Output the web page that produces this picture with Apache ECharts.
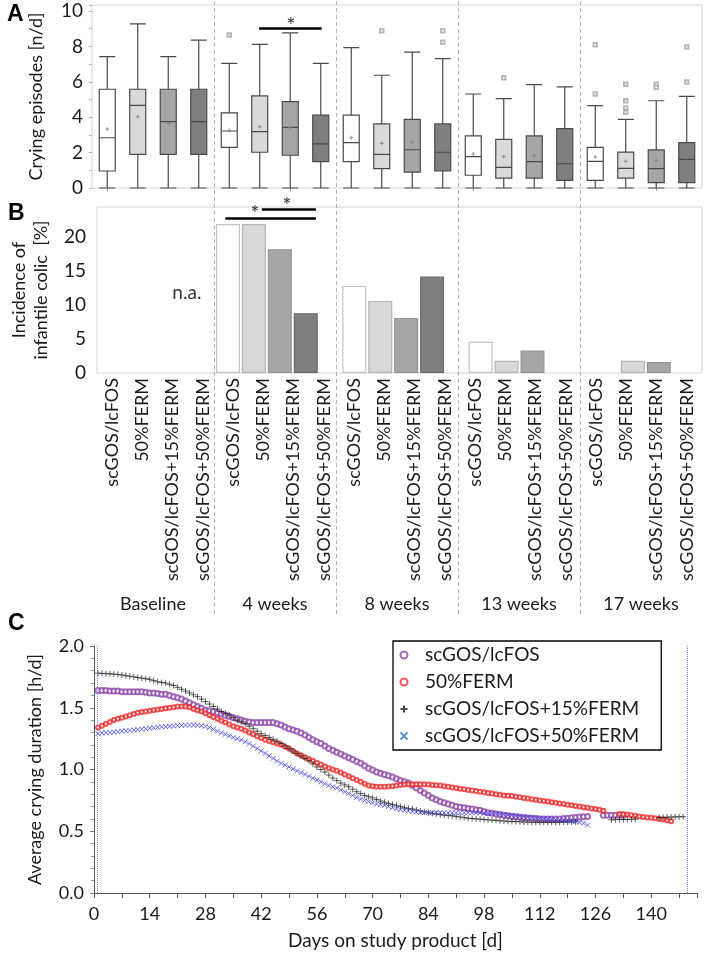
<!DOCTYPE html>
<html><head><meta charset="utf-8">
<script src="https://cdn.jsdelivr.net/npm/echarts@6/dist/echarts.min.js"></script>
<style>html,body{margin:0;padding:0;background:#fff}#c{width:709px;height:955px}</style>
</head><body><div id="c"></div>
<script>
// ---------------- DATA ----------------
const groups = ['Baseline', '4 weeks', '8 weeks', '13 weeks', '17 weeks'];
const products = ['scGOS/lcFOS', '50%FERM', 'scGOS/lcFOS+15%FERM', 'scGOS/lcFOS+50%FERM'];

// Panel A: crying episodes [n/d]; [min, Q1, median, Q3, max] per box (group-major)
const boxStats = [
  [0, 0.96, 2.84, 5.58, 7.42], [0, 1.90, 4.67, 5.58, 9.27], [0, 1.90, 3.75, 5.58, 7.42], [0, 1.90, 3.75, 5.58, 8.36],
  [0, 2.30, 3.22, 4.25, 7.04], [0, 2.02, 3.18, 5.20, 8.12], [0, 1.85, 3.43, 4.88, 8.77], [0, 1.49, 2.49, 4.12, 7.04],
  [0, 1.49, 2.56, 4.12, 7.93], [0, 1.09, 1.90, 3.62, 6.37], [0, 0.90, 2.16, 3.88, 7.68], [0, 0.96, 2.02, 3.62, 7.31],
  [0, 0.72, 1.77, 2.94, 5.31], [0, 0.56, 1.17, 2.75, 5.05], [0, 0.56, 1.49, 2.94, 5.84], [0, 0.43, 1.37, 3.35, 5.71],
  [0, 0.43, 1.51, 2.30, 4.65], [0, 0.56, 1.11, 2.03, 3.88], [0, 0.30, 1.09, 2.15, 4.93], [0, 0.30, 1.62, 2.56, 5.18]
];
const boxMeans = [3.33, 4.03, 3.65, 3.90, 3.25, 3.46, 3.41, 2.86, 2.84, 2.52, 2.58, 2.56,
                  1.92, 1.77, 1.83, 1.92, 1.75, 1.51, 1.56, 1.71];
// outliers: [box index, value]
const boxOutliers = [[4, 8.64], [9, 8.89], [11, 8.89], [11, 8.23], [13, 6.23],
  [16, 8.10], [16, 5.31], [17, 5.86], [17, 4.93], [17, 4.52], [17, 4.28],
  [18, 5.86], [18, 5.69], [19, 7.97], [19, 5.99]];
// significance annotations, x in slot units (0..20), [from, to, level] and star [x, y]
const sigA = [[5.48, 7.53, 9.0]];
const starA = [[6.52, 9.17]];

// Panel B: incidence of infantile colic [%] per product across the 5 time points (null = none / n.a.)
const colicScGOS   = [null, 21.9, 12.8, 4.6, null];
const colic50Ferm  = [null, 21.9, 10.6, 1.8, 1.8];
const colic15Ferm  = [null, 18.2, 8.1, 3.3, 1.6];
const colicSc50Ferm = [null, 8.8, 14.2, null, null];
const sigB = [[4.37, 7.34, 22.7], [5.57, 7.34, 24.1]];
const starB = [[5.34, 23.4], [6.39, 24.6]];
const naB = [3.11, 11.8];

// Panel C: average crying duration [h/d] by day on study product
const purpleFromDay1 = [
1.64,1.64,1.64,1.635,1.635,1.635,1.63,1.63,1.63,1.63,
1.63,1.63,1.625,1.62,1.62,1.615,1.61,1.61,1.60,1.59,
1.58,1.57,1.555,1.54,1.525,1.51,1.495,1.48,1.475,1.47,
1.46,1.45,1.44,1.43,1.42,1.41,1.40,1.39,1.385,1.38,
1.38,1.38,1.38,1.38,1.38,1.37,1.36,1.345,1.33,1.32,
1.31,1.295,1.28,1.26,1.24,1.225,1.21,1.19,1.17,1.155,
1.14,1.125,1.11,1.095,1.08,1.065,1.05,1.03,1.01,0.995,
0.98,0.97,0.96,0.95,0.94,0.925,0.91,0.90,0.89,0.87,
0.85,0.83,0.81,0.79,0.77,0.755,0.74,0.73,0.72,0.71,
0.70,0.695,0.69,0.685,0.68,0.675,0.67,0.66,0.65,0.645,
0.64,0.635,0.63,0.625,0.62,0.617,0.613,0.61,0.607,0.605,
0.603,0.60,0.60,0.60,0.60,0.60,0.60,0.603,0.605,0.61,
0.612,0.615,0.617,0.62];
const purpleFromDay128 = [0.63,0.63,0.63,0.63,0.63,0.63];

const redFromDay1 = [
1.34,1.355,1.37,1.385,1.40,1.41,1.42,1.43,1.44,1.45,
1.46,1.465,1.47,1.475,1.48,1.485,1.49,1.495,1.50,1.505,
1.51,1.51,1.51,1.505,1.49,1.48,1.47,1.455,1.44,1.425,
1.41,1.395,1.38,1.365,1.35,1.34,1.33,1.315,1.30,1.285,
1.27,1.255,1.24,1.23,1.22,1.21,1.20,1.185,1.17,1.15,
1.13,1.115,1.10,1.085,1.07,1.055,1.04,1.025,1.01,1.00,
0.99,0.975,0.96,0.945,0.93,0.915,0.90,0.885,0.87,0.865,
0.86,0.86,0.86,0.862,0.865,0.87,0.875,0.878,0.88,0.88,
0.88,0.88,0.88,0.878,0.875,0.872,0.87,0.865,0.86,0.855,
0.85,0.845,0.84,0.835,0.83,0.825,0.82,0.815,0.81,0.805,
0.80,0.795,0.79,0.787,0.785,0.78,0.775,0.77,0.765,0.76,
0.755,0.75,0.745,0.74,0.735,0.73,0.725,0.72,0.715,0.71,
0.705,0.70,0.695,0.69,0.685,0.68,0.675,0.665];
const redFromDay132 = [0.64,0.638,0.635,0.63,0.625,0.62,0.615,0.612,0.61,0.605,0.60,0.595,0.59,0.58];

const blackFromDay1 = [
1.78,1.778,1.776,1.775,1.772,1.77,1.765,1.76,1.755,1.75,
1.745,1.74,1.735,1.73,1.72,1.71,1.705,1.70,1.69,1.68,
1.665,1.65,1.635,1.62,1.605,1.59,1.57,1.55,1.53,1.51,
1.49,1.47,1.455,1.44,1.42,1.40,1.385,1.37,1.35,1.33,
1.31,1.29,1.275,1.26,1.245,1.23,1.21,1.19,1.17,1.15,
1.13,1.11,1.09,1.07,1.045,1.02,1.00,0.98,0.955,0.93,
0.91,0.89,0.875,0.86,0.84,0.82,0.805,0.79,0.78,0.77,
0.757,0.745,0.735,0.725,0.717,0.71,0.70,0.69,0.685,0.68,
0.672,0.665,0.657,0.65,0.645,0.64,0.635,0.63,0.627,0.625,
0.62,0.615,0.61,0.605,0.603,0.60,0.598,0.595,0.592,0.59,
0.588,0.585,0.583,0.58,0.579,0.578,0.577,0.575,0.574,0.573,
0.572,0.572,0.572,0.572,0.572,0.572,0.572,0.573,0.574,0.575,
0.577];
const blackFromDay130 = [0.593,0.594,0.595,0.595,0.596,0.597,0.598];
const blackFromDay142 = [0.61,0.612,0.614,0.615,0.616,0.617,0.618];

const blueFromDay1 = [
1.29,1.295,1.298,1.30,1.303,1.306,1.31,1.313,1.316,1.32,
1.323,1.327,1.33,1.335,1.338,1.342,1.345,1.347,1.35,1.352,
1.355,1.357,1.36,1.36,1.36,1.358,1.355,1.35,1.34,1.325,
1.31,1.297,1.285,1.272,1.26,1.25,1.24,1.225,1.21,1.19,
1.17,1.15,1.13,1.11,1.09,1.07,1.05,1.035,1.02,1.005,
0.99,0.975,0.96,0.945,0.93,0.915,0.90,0.885,0.87,0.86,
0.85,0.835,0.82,0.805,0.79,0.775,0.76,0.75,0.74,0.73,
0.72,0.715,0.71,0.70,0.69,0.682,0.675,0.67,0.665,0.66,
0.655,0.652,0.65,0.65,0.65,0.65,0.65,0.65,0.65,0.65,
0.65,0.65,0.65,0.65,0.65,0.65,0.65,0.648,0.646,0.645,
0.642,0.638,0.635,0.632,0.628,0.625,0.622,0.618,0.615,0.612,
0.608,0.605,0.603,0.60,0.598,0.595,0.592,0.59,0.587,0.583,
0.58,0.573,0.565,0.55];
const refDays = [0.7, 149];

// ---------------- BUILD ----------------
const FONT = 'Lato';
const TXT = '#1a1a1a';
const cats = [];
groups.forEach(() => products.forEach(p => cats.push(p)));
const fills = ['#ffffff', '#d9d9d9', '#a6a6a6', '#7f7f7f'];
const barBorders = ['#c4c4c4', '#b5b5b5', '#959595', '#6a6a6a'];
const colicByProduct = [colicScGOS, colic50Ferm, colic15Ferm, colicSc50Ferm];
function seg(start, vals) { return vals.map((v, i) => [start + i, v]); }
const PLUS = 'path://M0,5L10,5M5,0L5,10';
const CROSS = 'path://M0,0L10,10M10,0L0,10';
const A_MAX = 10.34, B_MAX = 24.4;

const gA = { left: 92, right: 7, top: 5, height: 183 };
const gB = { left: 92, right: 7, top: 207, height: 166 };
const gO = { left: 92, right: 7, top: 0, height: 614 };
const gC = { left: 94, right: 12, top: 646, height: 247 };
const gBars = { left: 77.4, right: -12.4, top: 207, height: 166 };

const hiddenVal = (gi, min, max) => ({ gridIndex: gi, type: 'value', min: min, max: max, show: false });
const noneSym = { symbol: 'circle', symbolSize: 1, itemStyle: { color: 'transparent' } };
const sigLine = arr => ({ silent: true, symbol: ['none', 'none'], label: { show: false },
  lineStyle: { color: '#000', width: 2.6, type: 'solid' },
  data: arr.map(s => [{ coord: [s[0], s[2]] }, { coord: [s[1], s[2]] }]) });

const option = {
  animation: false,
  backgroundColor: '#fff',
  textStyle: { fontFamily: FONT },
  graphic: [
    { type: 'text', left: 7, top: 3, style: { text: 'A', font: 'bold 23px "Liberation Sans"', fill: '#000' } },
    { type: 'text', left: 8, top: 202, style: { text: 'B', font: 'bold 23px "Liberation Sans"', fill: '#000' } },
    { type: 'text', left: 8, top: 612, style: { text: 'C', font: 'bold 23px "Liberation Sans"', fill: '#000' } }
  ],
  grid: [
    Object.assign({ show: true, borderColor: '#d4d4d4', borderWidth: 1, backgroundColor: 'transparent' }, gA), // 0
    Object.assign({ show: true, borderColor: '#d4d4d4', borderWidth: 1, backgroundColor: 'transparent' }, gB), // 1
    Object.assign({ show: false }, gO),    // 2 overlay
    Object.assign({ show: false }, gC),    // 3 panel C
    Object.assign({ show: false }, gA),    // 4 A annotations
    Object.assign({ show: false }, gB),    // 5 B annotations
    Object.assign({ show: false }, gBars)  // 6 B bars
  ],
  xAxis: [
    { gridIndex: 0, type: 'category', data: cats, boundaryGap: true,
      axisLine: { show: false }, axisLabel: { show: false },
      axisTick: { show: true, alignWithLabel: true, length: 3, lineStyle: { color: '#999' } } },
    { gridIndex: 1, type: 'category', data: cats, boundaryGap: true,
      axisLine: { show: false }, axisTick: { show: false },
      axisLabel: { show: true, interval: 0, rotate: 90, margin: 5, fontSize: 18, color: TXT, fontFamily: FONT } },
    Object.assign(hiddenVal(2, 0, 20), { position: 'top' }),
    { gridIndex: 2, type: 'category', data: groups, position: 'bottom', boundaryGap: true,
      axisLine: { show: false }, axisTick: { show: false },
      axisLabel: { inside: true, margin: 1, fontSize: 18, color: TXT, fontFamily: FONT, verticalAlign: 'bottom' } },
    { gridIndex: 3, type: 'value', min: 0, max: 151.5, interval: 7,
      axisLine: { show: true, lineStyle: { color: '#555', width: 1 } },
      axisTick: { show: true, length: 5, lineStyle: { color: '#555' } },
      splitLine: { show: false },
      axisLabel: { fontSize: 18, color: TXT, margin: 12, fontFamily: FONT,
        formatter: v => (v % 14 === 0 && v <= 140) ? String(v) : '' },
      name: 'Days on study product [d]', nameLocation: 'middle', nameGap: 38,
      nameTextStyle: { fontSize: 19, color: TXT, fontFamily: FONT } },
    hiddenVal(4, 0, 20),
    hiddenVal(5, 0, 20),
    { gridIndex: 6, type: 'category', data: groups, show: false }
  ],
  yAxis: [
    { gridIndex: 0, type: 'value', min: 0, max: A_MAX, interval: 2,
      axisLine: { show: false }, splitLine: { show: false },
      axisTick: { show: true, length: 3, lineStyle: { color: '#aaa' } },
      minorTick: { show: true, splitNumber: 2, length: 3, lineStyle: { color: '#bbb' } },
      axisLabel: { fontSize: 19, color: TXT, margin: 9, fontFamily: FONT,
        formatter: v => (Math.abs(v - Math.round(v)) < 1e-6 && Math.round(v) % 2 === 0) ? String(v) : '' },
      name: 'Crying episodes [n/d]', nameLocation: 'middle', nameGap: 47,
      nameTextStyle: { fontSize: 18, color: TXT, fontFamily: FONT } },
    { gridIndex: 1, type: 'value', min: 0, max: B_MAX, interval: 5,
      axisLine: { show: false }, splitLine: { show: false }, axisTick: { show: false },
      axisLabel: { fontSize: 19, color: TXT, margin: 11, fontFamily: FONT,
        formatter: v => (v % 5 === 0) ? String(v) : '' },
      name: 'Incidence of\ninfantile colic  [%]', nameLocation: 'middle', nameGap: 45,
      nameTextStyle: { fontSize: 18, color: TXT, fontFamily: FONT, lineHeight: 22, align: 'center' } },
    hiddenVal(2, 0, 1),
    { gridIndex: 3, type: 'value', min: 0, max: 2, interval: 0.5,
      axisLine: { show: true, lineStyle: { color: '#555', width: 1 } },
      axisTick: { show: true, length: 4, lineStyle: { color: '#777' } },
      minorTick: { show: true, splitNumber: 5, length: 3, lineStyle: { color: '#999' } },
      splitLine: { show: false },
      axisLabel: { fontSize: 18, color: TXT, margin: 10, fontFamily: FONT, formatter: v => v.toFixed(1) },
      name: 'Average crying duration [h/d]', nameLocation: 'middle', nameGap: 50,
      nameTextStyle: { fontSize: 18, color: TXT, fontFamily: FONT } },
    hiddenVal(4, 0, A_MAX),
    hiddenVal(5, 0, B_MAX),
    hiddenVal(6, 0, B_MAX)
  ],
  legend: {
    left: 393, top: 641, orient: 'vertical',
    data: [
      { name: 'scGOS/lcFOS' },
      { name: '50%FERM' },
      { name: 'scGOS/lcFOS+15%FERM' },
      { name: 'scGOS/lcFOS+50%FERM', itemStyle: { borderColor: '#2e78c0' } }
    ],
    borderColor: '#000', borderWidth: 1.3, backgroundColor: '#fff',
    padding: [3, 22, 3, 5], itemGap: 5, itemWidth: 32, itemHeight: 7,
    textStyle: { fontSize: 19, color: TXT, fontFamily: FONT, lineHeight: 22 }
  },
  series: [
    // Panel A boxes
    { type: 'boxplot', xAxisIndex: 0, yAxisIndex: 0, boxWidth: [16, 16], silent: true,
      data: boxStats.map((s, i) => ({ value: s, itemStyle: { color: fills[i % 4], borderColor: '#4a4a4a', borderWidth: 1.2 } })) },
    // means
    { type: 'scatter', xAxisIndex: 0, yAxisIndex: 0, symbol: PLUS, symbolSize: 4, silent: true,
      itemStyle: { color: 'none', borderColor: '#808080', borderWidth: 1 },
      data: boxMeans.map((m, i) => [i, m]) },
    // outliers
    { type: 'scatter', xAxisIndex: 0, yAxisIndex: 0, symbol: 'emptyRect', symbolSize: 3.5, silent: true,
      itemStyle: { color: '#a8a8a8', borderWidth: 0.9 }, data: boxOutliers },
    // A significance
    Object.assign({ type: 'scatter', xAxisIndex: 5, yAxisIndex: 4, silent: true, clip: false,
      data: starA.map(s => ({ value: s, name: '*' })),
      label: { show: true, position: 'inside', formatter: '*', fontSize: 22, color: '#000', fontFamily: FONT },
      markLine: sigLine(sigA) }, noneSym),
    // Panel B bars (grouped by time point)
    ...colicByProduct.map((arr, k) => ({
      type: 'bar', xAxisIndex: 7, yAxisIndex: 6, barWidth: 24, barGap: '8%', silent: true,
      itemStyle: { color: fills[k], borderColor: barBorders[k], borderWidth: 1.2 },
      data: arr.map(v => v == null ? '-' : v) })),
    // B annotations
    Object.assign({ type: 'scatter', xAxisIndex: 6, yAxisIndex: 5, silent: true, clip: false,
      data: starB.map(s => ({ value: s, name: '*' })).concat([{ value: naB, name: 'n.a.', label: { fontSize: 19 } }]),
      label: { show: true, position: 'inside', formatter: p => p.name, fontSize: 22, color: '#000', fontFamily: FONT },
      markLine: sigLine(sigB) }, noneSym),
    // overlay dashed group separators
    { type: 'line', xAxisIndex: 2, yAxisIndex: 2, data: [[0, 0]], symbol: 'none', lineStyle: { width: 0 }, silent: true,
      markLine: { silent: true, symbol: ['none', 'none'], label: { show: false },
        lineStyle: { color: '#b3b3b3', width: 1, type: [4, 3] },
        data: [4, 8, 12, 16].map(x => ({ xAxis: x })) } },
    // Panel C
    { name: 'scGOS/lcFOS', type: 'scatter', xAxisIndex: 4, yAxisIndex: 3, symbol: 'emptyCircle', symbolSize: 5,
      itemStyle: { color: '#8d46aa', borderWidth: 0.9 },
      data: seg(1, purpleFromDay1).concat(seg(128, purpleFromDay128)) },
    { name: '50%FERM', type: 'scatter', xAxisIndex: 4, yAxisIndex: 3, symbol: 'emptyCircle', symbolSize: 4,
      itemStyle: { color: '#ee2a2a', borderWidth: 0.9 },
      data: seg(1, redFromDay1).concat(seg(132, redFromDay132)) },
    { name: 'scGOS/lcFOS+15%FERM', type: 'scatter', xAxisIndex: 4, yAxisIndex: 3, symbol: PLUS, symbolSize: 6,
      itemStyle: { color: 'none', borderColor: '#1a1a1a', borderWidth: 0.9 },
      data: seg(1, blackFromDay1).concat(seg(130, blackFromDay130), seg(142, blackFromDay142)) },
    { name: 'scGOS/lcFOS+50%FERM', type: 'scatter', xAxisIndex: 4, yAxisIndex: 3, symbol: CROSS, symbolSize: 5,
      itemStyle: { color: 'none', borderColor: '#3030ee', borderWidth: 0.9 },
      data: seg(1, blueFromDay1) },
    { type: 'line', xAxisIndex: 4, yAxisIndex: 3, data: [[0, 0]], symbol: 'none', lineStyle: { width: 0 }, silent: true,
      markLine: { silent: true, symbol: ['none', 'none'], label: { show: false },
        lineStyle: { color: '#7a7aff', width: 1, type: 'dotted' },
        data: refDays.map(d => ({ xAxis: d })) } }
  ]
};
const chart = echarts.init(document.getElementById('c'));
chart.setOption(option);
</script>
</body></html>
